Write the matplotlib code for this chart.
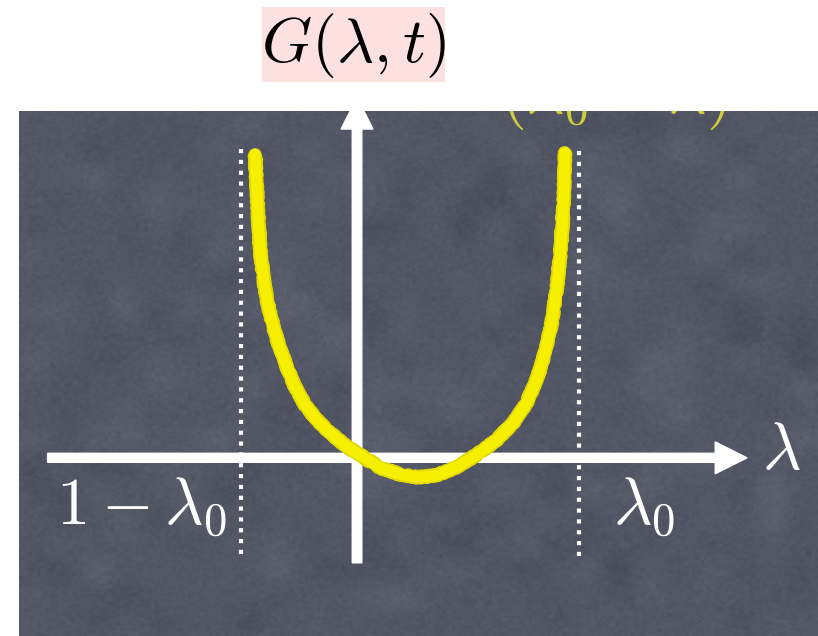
import numpy as np
import matplotlib
matplotlib.use('Agg')
import matplotlib.pyplot as plt
from matplotlib.patches import Rectangle

plt.rcParams['mathtext.fontset'] = 'cm'

# lambda_0 and its mirror point 1 - lambda_0
lam0 = 2.094
lam_left = 1 - lam0

# G(lambda, t) sketched between the two bounds
curve_x = [-0.962, -0.946, -0.931, -0.908, -0.877, -0.837, -0.790, -0.733, -0.663,
           -0.585, -0.491, -0.380, -0.255, -0.097, 0.028, 0.217, 0.406, 0.575,
           0.755, 0.943, 1.129, 1.318, 1.475, 1.601, 1.695, 1.774, 1.837, 1.884,
           1.915, 1.940, 1.953, 1.962]
curve_y = [2.858, 2.528, 2.217, 1.896, 1.651, 1.425, 1.236, 1.047, 0.858,
           0.670, 0.500, 0.358, 0.236, 0.104, 0.028, -0.094, -0.156, -0.184,
           -0.165, -0.085, 0.028, 0.170, 0.330, 0.519, 0.736, 0.991, 1.274, 1.585,
           1.896, 2.217, 2.528, 2.877]

# board extent and axis arrows
board_x = (-3.19, 4.35)
board_y = (-1.68, 3.27)
h_axis = (-2.92, 3.68)
v_axis = (-0.99, 3.40)
left_dots = (-0.91, 2.97)
right_dots = (-0.93, 2.94)

fig = plt.figure(figsize=(8.18, 6.36), dpi=100)
fig.patch.set_facecolor('white')

# title in a pink box
fig.patches.append(Rectangle((262 / 818, 1 - 82 / 636), 183 / 818, 75 / 636,
                             transform=fig.transFigure, facecolor='#fde0e0',
                             edgecolor='none', zorder=0))
fig.text(353 / 818, 1 - 45 / 636, r'$G(\lambda,t)$', fontsize=46,
         ha='center', va='center', color='black')

ax = fig.add_axes([19 / 818, 0, 799 / 818, 525 / 636])
ax.set_xlim(*board_x)
ax.set_ylim(*board_y)
ax.set_axis_off()

# chalkboard texture
rng = np.random.default_rng(7)
coarse = rng.normal(0, 1, (22, 28))
fine = rng.normal(0, 1, (200, 260))
big = np.kron(coarse, np.ones((10, 10)))[:200, :260]
kernel = np.ones(7) / 7
for _ in range(2):
    big = np.apply_along_axis(lambda r: np.convolve(r, kernel, mode='same'), 1, big)
    big = np.apply_along_axis(lambda c: np.convolve(c, kernel, mode='same'), 0, big)
tex = 0.5 * big / big.std() + 0.5 * fine
base = np.array([84, 88, 102]) / 255
img = np.clip(base[None, None, :] + 0.02 * tex[:, :, None], 0, 1)
ax.imshow(img, extent=(*board_x, *board_y), aspect='auto', interpolation='bilinear', zorder=0)

# dotted bounds
ax.plot([lam_left, lam_left], left_dots, color='white', lw=3,
        linestyle=(0, (1, 1.6)), zorder=2)
ax.plot([lam0, lam0], right_dots, color='white', lw=3,
        linestyle=(0, (1, 1.6)), zorder=2)

# axes
ax.arrow(h_axis[0], 0, h_axis[1] - h_axis[0] - 0.3, 0, width=0.085, head_width=0.3,
         head_length=0.3, color='white', zorder=3)
ax.arrow(0, v_axis[0], 0, v_axis[1] - v_axis[0] - 0.3, width=0.09, head_width=0.3,
         head_length=0.3, color='white', zorder=3, clip_on=True)

# chalk curve
edge, = ax.plot(curve_x, curve_y, color='#e2d800', lw=9.5, solid_capstyle='round',
                solid_joinstyle='round', zorder=4)
edge.set_sketch_params(scale=1.0, length=2, randomness=4)
ax.plot(curve_x, curve_y, color='#f6f000', lw=8, solid_capstyle='round',
        solid_joinstyle='round', zorder=5)

# labels
ax.text(-2.03, -0.46, r'$1-\lambda_0$', fontsize=48, color='white', ha='center', va='center')
ax.text(2.71, -0.46, r'$\lambda_0$', fontsize=48, color='white', ha='center', va='center')
ax.text(4.0, 0.075, r'$\lambda$', fontsize=48, color='white', ha='center', va='center')
ax.text(2.42, 3.075, r'$(\lambda_0-\lambda)$', fontsize=48, color='#cfcf3a',
        ha='center', va='bottom', clip_on=True)

fig.savefig('out.png', dpi=100)
